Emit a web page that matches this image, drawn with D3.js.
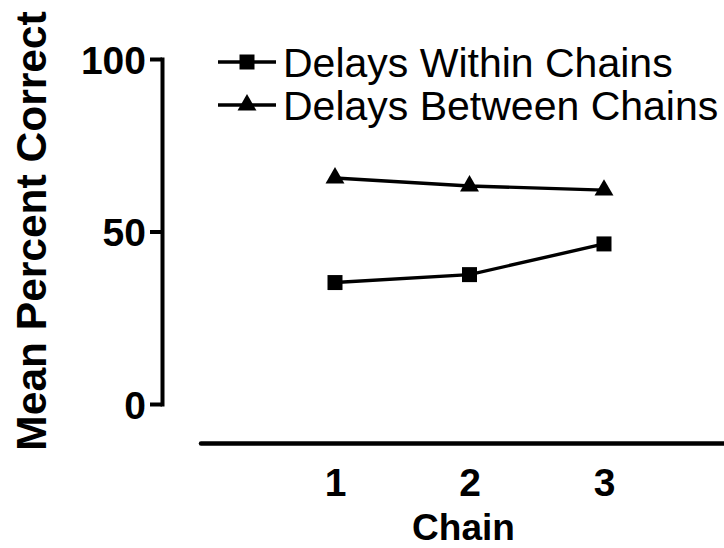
<!DOCTYPE html>
<html>
<head>
<meta charset="utf-8">
<script src="https://cdn.jsdelivr.net/npm/d3@7/dist/d3.min.js"></script>
<style>
  html, body { margin: 0; padding: 0; background: #fff; }
  svg { display: block; font-family: "Liberation Sans", Arial, sans-serif; }
</style>
</head>
<body>
<svg id="chart" width="724" height="548"></svg>
<script>
// Mean percent correct per chain position
const chains = [1, 2, 3];
const withinChains = [35.2, 37.5, 46.4];
const betweenChains = [65.5, 63.2, 62.0];
const yTicks = [0, 50, 100];
const seriesNames = ["Delays Within Chains", "Delays Between Chains"];

const svg = d3.select("#chart");

const x = d3.scaleLinear().domain([0, 4]).range([200.5, 738.5]);
const y = d3.scaleLinear().domain([0, 100]).range([404, 59]);

// Y axis: spine plus outward ticks
const yAxis = d3.axisLeft(y).tickValues(yTicks).tickFormat(d3.format("d"))
  .tickSize(12).tickPadding(4).tickSizeOuter(0);
const gy = svg.append("g").attr("transform", "translate(162,0)").call(yAxis);
gy.select(".domain").attr("stroke", "#000").attr("stroke-width", 4).attr("stroke-linecap", "square");
gy.selectAll(".tick line").attr("stroke", "#000").attr("stroke-width", 4);
gy.selectAll(".tick text")
  .attr("fill", "#000")
  .style("font-size", "39px")
  .style("font-weight", "bold")
  .attr("dy", "0.36em");

// X axis: detached baseline with category labels
const xAxis = d3.axisBottom(x).tickValues(chains).tickFormat(d3.format("d"))
  .tickSize(0).tickPadding(25);
const gx = svg.append("g").attr("transform", "translate(0,443)").call(xAxis);
gx.select(".domain").attr("stroke", "#000").attr("stroke-width", 4.5).attr("stroke-linecap", "round");
gx.selectAll(".tick text")
  .attr("fill", "#000")
  .style("font-size", "39px")
  .style("font-weight", "bold")
  .attr("dy", "0.71em");

// Axis titles
svg.append("text")
  .attr("x", x(2) - 6).attr("y", 540)
  .attr("text-anchor", "middle")
  .style("font-size", "37px").style("font-weight", "bold")
  .text("Chain");

svg.append("text")
  .attr("transform", "translate(46,231) rotate(-90)")
  .attr("text-anchor", "middle")
  .style("font-size", "42.5px").style("font-weight", "bold")
  .text("Mean Percent Correct");

const line = d3.line().x((d, i) => x(chains[i])).y(d => y(d));

const square = d3.symbol().type(d3.symbolSquare).size(15 * 15);
const triangle = d3.symbol().type(d3.symbolTriangle).size(155);

function drawSeries(values, sym) {
  svg.append("path")
    .datum(values)
    .attr("d", line)
    .attr("fill", "none")
    .attr("stroke", "#000")
    .attr("stroke-width", 3.4);
  svg.selectAll(null)
    .data(values)
    .enter().append("path")
    .attr("transform", (d, i) => `translate(${x(chains[i])},${y(d)})`)
    .attr("d", sym)
    .attr("fill", "#000");
}

drawSeries(withinChains, square);
drawSeries(betweenChains, triangle);

// Legend
const legend = svg.append("g");
const legendSyms = [square, triangle];
seriesNames.forEach((name, i) => {
  const ly = 62 + i * 43;
  legend.append("line")
    .attr("x1", 218).attr("x2", 276).attr("y1", ly).attr("y2", ly)
    .attr("stroke", "#000").attr("stroke-width", 3.4);
  legend.append("path")
    .attr("transform", `translate(247,${ly})`)
    .attr("d", legendSyms[i])
    .attr("fill", "#000");
  legend.append("text")
    .attr("x", 283).attr("y", ly)
    .attr("dy", "0.36em")
    .style("font-size", "41px")
    .text(name);
});
</script>
</body>
</html>
